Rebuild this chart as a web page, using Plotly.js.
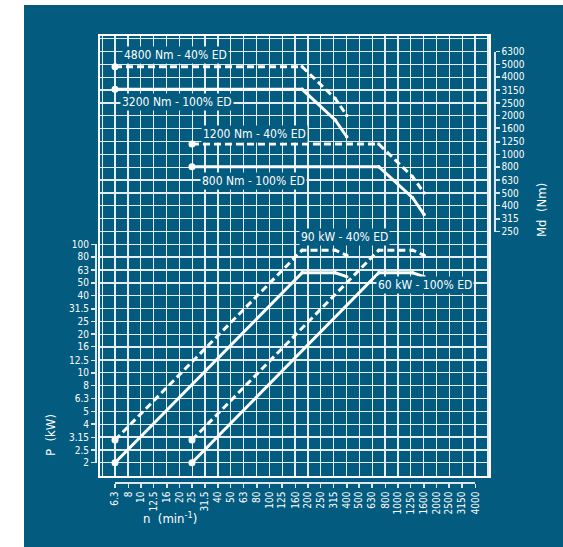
<!DOCTYPE html>
<html>
<head>
<meta charset="utf-8">
<script src="https://cdn.plot.ly/plotly-3.0.1.min.js"></script>
<style>
  html, body { margin: 0; padding: 0; background: #ffffff; }
  #chart { position: absolute; left: 24px; top: 5px; width: 539px; height: 542px; }
</style>
</head>
<body>
<div id="chart"></div>
<script>
// Tick series (R10) for the three scales
const speedTicks  = [6.3, 8, 10, 12.5, 16, 20, 25, 31.5, 40, 50, 63, 80, 100, 125, 160, 200, 250, 315, 400, 500, 630, 800, 1000, 1250, 1600, 2000, 2500, 3150, 4000];
const powerTicks  = [2, 2.5, 3.15, 4, 5, 6.3, 8, 10, 12.5, 16, 20, 25, 31.5, 40, 50, 63, 80, 100];
const torqueTicks = [250, 315, 400, 500, 630, 800, 1000, 1250, 1600, 2000, 2500, 3150, 4000, 5000, 6300];

// Output torque Md (Nm) over speed n (min^-1)
const nTorqueLow   = [6.3, 180, 325, 400];
const mdLow40      = [4800, 4800, 2720, 2000];
const mdLow100     = [3200, 3200, 1850, 1370];
const nTorqueHigh  = [25, 710, 1300, 1600];
const mdHigh40     = [1200, 1200, 670, 500];
const mdHigh100    = [800, 800, 460, 340];

// Power P (kW) over speed n (min^-1)
const nPowerLow    = [6.3, 180, 325, 400];
const pLow40       = [3, 90, 90, 82];
const pLow100      = [2, 60, 60, 56];
const nPowerHigh   = [25, 710, 1300, 1600];
const pHigh40      = [3, 90, 90, 82];
const pHigh100     = [2, 60, 60, 56];

// Curve captions
const captions = [
  {text: '4800 Nm - 40% ED',  px: 122, py: 55},
  {text: '3200 Nm - 100% ED', px: 120, py: 101.7},
  {text: '1200 Nm - 40% ED',  px: 201, py: 133.5},
  {text: '800 Nm - 100% ED',  px: 200, py: 180.7},
  {text: '90 kW - 40% ED',    px: 299, py: 236.7},
  {text: '60 kW - 100% ED',   px: 376, py: 285}
];

// ---- geometry (page pixels) ----
const BG = '#045b80';
const AX = '#dce7ee';
const GRID = '#e6eef3';
const FONT = '"DejaVu Sans Condensed", "Liberation Sans Narrow", "Arial Narrow", sans-serif';
const OX = 24, OY = 5;               // chart div offset on the page
const W = 539, H = 542;
const M = {l: 71, r: 69, t: 31, b: 65};
const plotL = OX + M.l, plotR = OX + W - M.r, plotT = OY + M.t, plotB = OY + H - M.b;
const fx = px => (px - plotL) / (plotR - plotL);
const fy = py => (plotB - py) / (plotB - plotT);

// grid frame and scale
const frame = {l: 100, r: 489, t: 36, b: 475.7};
const lg = Math.log10;
const k = (475.3 - 115) / (lg(4000) - lg(6.3));          // px per decade
const xRange = [lg(6.3) - (115 - frame.l) / k, lg(4000) + (frame.r - 475.3) / k];
const pRange = [lg(2) - (frame.b - 462.7) / k, lg(2) + (462.7 - frame.t) / k];
const MD_SHIFT = 0.3;                                     // torque scale sits 0.3 decade above power scale
const mdRange = [pRange[0] + MD_SHIFT, pRange[1] + MD_SHIFT];
const xPix = v => frame.l + (lg(v) - xRange[0]) * k;
const pPix = v => frame.b - (lg(v) - pRange[0]) * k;
const mdPix = v => frame.b - (lg(v) - mdRange[0]) * k;

// grid every tenth of a decade across the whole frame
function gridVals(range) {
  const out = [];
  for (let i = Math.ceil(range[0] * 10 - 1e-6); i <= Math.floor(range[1] * 10 + 1e-6); i++) out.push(Math.pow(10, i / 10));
  return out;
}

function curve(x, y, yaxis, dashed) {
  return {
    type: 'scatter', mode: 'lines+markers', x: x, y: y, xaxis: 'x', yaxis: yaxis,
    line: {color: '#ffffff', width: 3, dash: dashed ? '7px,4px' : 'solid'},
    marker: {color: '#ffffff', opacity: 1, line: {width: 0}, size: x.map((v, i) => i === 0 ? 7 : 3.5)},
    hoverinfo: 'skip', showlegend: false, cliponaxis: false
  };
}

// invisible companions that carry the labelled scales
function scaleCarrier(x, y, xaxis, yaxis) {
  return {
    type: 'scatter', mode: 'markers', x: x, y: y, xaxis: xaxis, yaxis: yaxis,
    marker: {opacity: 0, size: 1}, hoverinfo: 'skip', showlegend: false
  };
}

const data = [
  scaleCarrier(nPowerLow, pLow100, 'x2', 'y3'),
  scaleCarrier(nTorqueLow, mdLow100, 'x2', 'y4'),
  curve(nTorqueLow,  mdLow40,  'y2', true),
  curve(nTorqueLow,  mdLow100, 'y2', false),
  curve(nTorqueHigh, mdHigh40, 'y2', true),
  curve(nTorqueHigh, mdHigh100,'y2', false),
  curve(nPowerLow,   pLow40,   'y',  true),
  curve(nPowerLow,   pLow100,  'y',  false),
  curve(nPowerHigh,  pHigh40,  'y',  true),
  curve(nPowerHigh,  pHigh100, 'y',  false)
];

const tickAxis = {
  type: 'log', ticks: 'outside', ticklen: 4, tickwidth: 1.5, tickcolor: AX,
  showline: true, linecolor: AX, linewidth: 1.5, showgrid: false, zeroline: false,
  tickfont: {family: FONT, size: 10, color: '#ffffff'}, fixedrange: true
};

const annotations = captions.map(c => ({
  text: c.text, xref: 'paper', yref: 'paper', x: fx(c.px), y: fy(c.py),
  xanchor: 'left', yanchor: 'middle', showarrow: false, bgcolor: BG, borderpad: 1,
  font: {family: FONT, size: 12, color: '#ffffff'}
}));
annotations.push(
  {text: 'P  (kW)', xref: 'paper', yref: 'paper', x: fx(50), y: fy(435), textangle: -90,
   xanchor: 'center', yanchor: 'middle',
   showarrow: false, font: {family: FONT, size: 13, color: '#ffffff'}},
  {text: 'Md  (Nm)', xref: 'paper', yref: 'paper', x: fx(541), y: fy(210), textangle: -90,
   xanchor: 'center', yanchor: 'middle',
   showarrow: false, font: {family: FONT, size: 13, color: '#ffffff'}},
  {text: 'n  (min<sup>-1</sup>)', xref: 'paper', yref: 'paper', x: fx(170), y: fy(518),
   xanchor: 'center', yanchor: 'middle',
   showarrow: false, font: {family: FONT, size: 13, color: '#ffffff'}}
);

const layout = {
  width: W, height: H, margin: {l: M.l, r: M.r, t: M.t, b: M.b, pad: 0},
  paper_bgcolor: BG, plot_bgcolor: 'rgba(0,0,0,0)', showlegend: false,
  font: {family: FONT, color: '#ffffff', size: 10},
  xaxis: {
    type: 'log', domain: [fx(frame.l), fx(frame.r)], range: xRange, anchor: 'y',
    tickmode: 'array', tickvals: gridVals(xRange), showgrid: true, gridcolor: GRID, gridwidth: 1.3,
    ticks: '', showticklabels: false, showline: true, mirror: true, linecolor: '#ffffff', linewidth: 2,
    zeroline: false, fixedrange: true
  },
  yaxis: {
    type: 'log', domain: [fy(frame.b), fy(frame.t)], range: pRange, anchor: 'x',
    tickmode: 'array', tickvals: gridVals(pRange), showgrid: true, gridcolor: GRID, gridwidth: 1.3,
    ticks: '', showticklabels: false, showline: true, mirror: true, linecolor: '#ffffff', linewidth: 2,
    zeroline: false, fixedrange: true
  },
  yaxis2: {type: 'log', overlaying: 'y', range: mdRange, visible: false, fixedrange: true},
  xaxis2: Object.assign({}, tickAxis, {
    domain: [fx(xPix(6.3)), fx(xPix(4000))], range: [lg(6.3), lg(4000)],
    anchor: 'free', position: 0, side: 'bottom', tickangle: -90,
    tickmode: 'array', tickvals: speedTicks, ticktext: speedTicks.map(String)
  }),
  yaxis3: Object.assign({}, tickAxis, {
    domain: [fy(pPix(2)), fy(pPix(100))], range: [lg(2), lg(100)],
    anchor: 'free', position: 0, side: 'left',
    tickmode: 'array', tickvals: powerTicks, ticktext: powerTicks.map(String)
  }),
  yaxis4: Object.assign({}, tickAxis, {
    domain: [fy(mdPix(250)), fy(mdPix(6300))], range: [lg(250), lg(6300)],
    anchor: 'free', position: 1, side: 'right',
    tickmode: 'array', tickvals: torqueTicks, ticktext: torqueTicks.map(String)
  }),
  annotations: annotations
};

Plotly.newPlot('chart', data, layout, {staticPlot: true, displayModeBar: false});
</script>
</body>
</html>
